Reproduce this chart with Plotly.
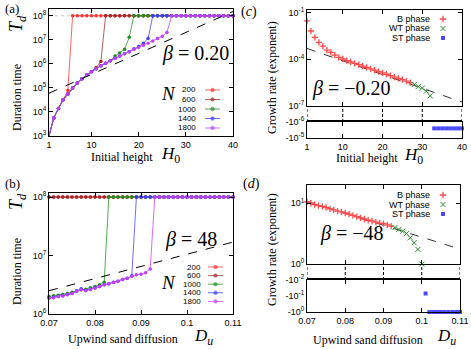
import plotly.graph_objects as go

W, H = 471, 349
SANS = "Liberation Sans"
SERIF = "Liberation Serif"

# ---------------- data ----------------
T_MAX = 1e8  # runs stop at this duration

h0 = list(range(1, 41))
du = [0.070, 0.071, 0.072, 0.073, 0.074, 0.075, 0.076, 0.077, 0.078, 0.079,
      0.080, 0.081, 0.082, 0.083, 0.084, 0.085, 0.086, 0.087, 0.088, 0.089,
      0.090, 0.091, 0.092, 0.093, 0.094, 0.095, 0.096, 0.097, 0.098, 0.099,
      0.100, 0.101, 0.102, 0.103, 0.104, 0.105, 0.106, 0.107, 0.108, 0.109,
      0.110]

n_labels = ["200", "600", "1000", "1400", "1800"]
n_colors = ["#ff3030", "#a02828", "#1f8f1f", "#3c3cff", "#c43cff"]

# (a) duration time vs initial height
td_a_200 = [1.0e3, 5.6e3, 1.4e4, 3.2e4, 7.9e4] + [T_MAX] * 35
td_a_600 = [1.0e3, 5.6e3, 1.4e4, 3.2e4, 5.6e4, 1.0e5, 1.6e5, 2.4e5, 3.4e5, 4.8e5,
            7.0e5, 1.26e6] + [T_MAX] * 28
td_a_1000 = [1.0e3, 5.6e3, 1.4e4, 3.2e4, 5.6e4, 1.0e5, 1.6e5, 2.4e5, 3.4e5, 4.7e5,
             6.3e5, 8.3e5, 1.07e6, 1.35e6, 2.1e6, 2.8e6, 4.0e6, 1.26e7] + [T_MAX] * 22
td_a_1400 = [1.0e3, 5.6e3, 1.4e4, 3.2e4, 5.6e4, 1.0e5, 1.6e5, 2.4e5, 3.4e5, 4.7e5,
             6.3e5, 8.3e5, 1.07e6, 1.35e6, 1.7e6, 2.1e6, 2.6e6, 3.2e6, 4.2e6, 5.2e6,
             7.1e6, 1.12e7] + [T_MAX] * 18
td_a_1800 = [1.0e3, 5.6e3, 1.4e4, 3.2e4, 5.6e4, 1.0e5, 1.6e5, 2.4e5, 3.4e5, 4.7e5,
             6.3e5, 8.3e5, 1.07e6, 1.35e6, 1.7e6, 2.1e6, 2.6e6, 3.2e6, 4.0e6, 4.8e6,
             5.9e6, 7.2e6, 8.9e6, 1.12e7, 1.4e7, 2.0e7] + [T_MAX] * 14
fit_a_h0 = [1, 40]
fit_a_td = [6.0e4, 1.5e8]

# (b) duration time vs upwind sand diffusion
td_b_200 = [T_MAX] * 41
td_b_600 = [T_MAX] * 41
td_b_1000 = [2.0e6, 2.05e6, 2.1e6, 2.15e6, 2.25e6, 2.35e6, 2.45e6, 2.6e6, 2.65e6, 2.8e6,
             2.95e6, 3.15e6, 3.5e6] + [T_MAX] * 28
td_b_1400 = [1.9e6, 1.95e6, 2.0e6, 2.05e6, 2.15e6, 2.25e6, 2.5e6, 2.7e6, 2.55e6, 2.65e6,
             2.8e6, 2.95e6, 3.15e6, 3.3e6, 3.5e6, 3.65e6, 3.9e6, 4.1e6, 4.5e6] + [T_MAX] * 22
td_b_1800 = [1.86e6, 1.9e6, 2.0e6, 2.04e6, 2.14e6, 2.24e6, 2.45e6, 2.6e6, 2.5e6, 2.63e6,
             2.75e6, 2.95e6, 3.16e6, 3.3e6, 3.47e6, 3.63e6, 3.9e6, 4.07e6, 4.37e6, 4.68e6,
             4.8e6, 5.1e6, 5.9e6] + [T_MAX] * 18
fit_b_du = [0.07, 0.11]
fit_b_td = [2.5e6, 1.7e7]

# (c) growth rate vs initial height
h0_c_b = list(range(1, 28))
rate_c_b = [3.0e-2, 6.6e-3, 2.6e-3, 1.23e-3, 7.1e-4, 3.9e-4, 2.8e-4, 1.86e-4, 1.32e-4,
            1.05e-4, 8.3e-5, 6.8e-5, 5.5e-5, 4.5e-5, 3.7e-5, 3.0e-5, 2.45e-5, 2.0e-5,
            1.62e-5, 1.35e-5, 1.1e-5, 8.9e-6, 7.2e-6, 5.9e-6, 4.9e-6, 4.0e-6, 3.2e-6]
h0_c_wt = [28, 29, 30, 31, 32]
rate_c_wt = [2.4e-6, 1.78e-6, 1.41e-6, 8.9e-7, 4.5e-7]
h0_c_st = [33, 34, 35, 36, 37, 38, 39, 40]
rate_c_st = [-2.5e-6, -2.5e-6, -2.5e-6, -2.5e-6, -2.5e-6, -2.5e-6, -2.5e-6, -2.5e-6]
fit_c_h0 = [1, 40]
fit_c_rate = [5.0e-4, 1.8e-7]

# (d) growth rate vs upwind sand diffusion
du_d_b = du[:23]
rate_d_b = [10.5, 10.0, 9.5, 9.1, 8.9, 8.5, 8.1, 7.8, 7.4, 7.2, 6.9, 6.6, 6.3, 6.0,
            5.75, 5.5, 5.25, 5.1, 4.9, 4.7, 4.6, 4.4, 4.2]
du_d_wt = du[23:31]
rate_d_wt = [3.98, 3.7, 3.47, 3.16, 2.7, 2.24, 1.74, 1.0]
du_d_st = du[31:]
rate_d_st = [-0.07, -1.0, -1.0, -1.0, -1.0, -1.0, -1.0, -1.0, -1.0, -1.0]
fit_d_du = [0.07, 0.11]
fit_d_rate = [10.7, 1.76]

h0_ticks = [1, 10, 20, 30, 40]
du_ticks = [0.07, 0.08, 0.09, 0.1, 0.11]
du_ticktext = ["0.07", "0.08", "0.09", "0.1", "0.11"]


def px(x):
    return x / W


def py(y):
    return 1 - y / H


def rgba(hexc, a):
    h = hexc.lstrip("#")
    return "rgba({},{},{},{})".format(int(h[0:2], 16), int(h[2:4], 16), int(h[4:6], 16), a)


def sup(base, exps):
    return ["{}10<sup>{}</sup>".format(base, e) for e in exps]


fig = go.Figure()

# ---------- (a) and (b) ----------
fig.add_trace(go.Scatter(x=[1, 40], y=[T_MAX, T_MAX], mode="lines",
                         line=dict(color="#c8c8c8", width=1, dash="dot"),
                         xaxis="x", yaxis="y", showlegend=False))
for td, c in zip([td_a_200, td_a_600, td_a_1000, td_a_1400, td_a_1800], n_colors):
    fig.add_trace(go.Scatter(x=h0, y=td, mode="lines+markers",
                             line=dict(color=rgba(c, 0.75), width=1),
                             marker=dict(color=c, size=3.5),
                             xaxis="x", yaxis="y", showlegend=False, cliponaxis=False))
fig.add_trace(go.Scatter(x=fit_a_h0, y=fit_a_td, mode="lines",
                         line=dict(color="black", width=1, dash="dash"),
                         xaxis="x", yaxis="y", showlegend=False))

for td, c in zip([td_b_200, td_b_600, td_b_1000, td_b_1400, td_b_1800], n_colors):
    fig.add_trace(go.Scatter(x=du, y=td, mode="lines+markers",
                             line=dict(color=rgba(c, 0.75), width=1),
                             marker=dict(color=c, size=3.5),
                             xaxis="x2", yaxis="y2", showlegend=False, cliponaxis=False))
fig.add_trace(go.Scatter(x=fit_b_du, y=fit_b_td, mode="lines",
                         line=dict(color="black", width=1, dash="dash"),
                         xaxis="x2", yaxis="y2", showlegend=False))

# ---------- (c) and (d) ----------
B_COL, WT_COL, ST_COL = "#ff4a4a", "#2a8a2a", "#4a4aff"


def phase_traces(xb, yb, xw, yw, xs, ys, fx, fy, xa_up, ya_up, xa_lo, ya_lo):
    fig.add_trace(go.Scatter(x=fx, y=fy, mode="lines",
                             line=dict(color="#333333", width=1, dash="dash"),
                             xaxis=xa_up, yaxis=ya_up, showlegend=False))
    fig.add_trace(go.Scatter(x=xb, y=yb, mode="markers",
                             marker=dict(symbol="cross-thin", size=4.5, color=B_COL,
                                         line=dict(color=B_COL, width=1.3)),
                             xaxis=xa_up, yaxis=ya_up, showlegend=False, cliponaxis=False))
    fig.add_trace(go.Scatter(x=xw, y=yw, mode="markers",
                             marker=dict(symbol="x-thin", size=5, color=WT_COL,
                                         line=dict(color=WT_COL, width=1)),
                             xaxis=xa_up, yaxis=ya_up, showlegend=False, cliponaxis=False))
    # negative rates shown by magnitude on a reversed log axis
    fig.add_trace(go.Scatter(x=xs, y=[-v for v in ys], mode="markers",
                             marker=dict(symbol="square", size=4, color=ST_COL),
                             xaxis=xa_lo, yaxis=ya_lo, showlegend=False, cliponaxis=False))


phase_traces(h0_c_b, rate_c_b, h0_c_wt, rate_c_wt, h0_c_st, rate_c_st,
             fit_c_h0, fit_c_rate, "x3", "y3", "x4", "y4")
phase_traces(du_d_b, rate_d_b, du_d_wt, rate_d_wt, du_d_st, rate_d_st,
             fit_d_du, fit_d_rate, "x5", "y5", "x6", "y6")

# ---------- hand-made legend keys (pixel overlay) ----------
a_key_y = [90, 99.5, 109, 118.5, 128]
b_key_y = [267, 275.6, 284.2, 292.8, 301.4]
for ky_list, x0, x1 in [(a_key_y, 205, 220), (b_key_y, 208, 223)]:
    for ky, c in zip(ky_list, n_colors):
        fig.add_trace(go.Scatter(x=[x0, (x0 + x1) / 2, x1], y=[ky, ky, ky],
                                 mode="lines+markers",
                                 line=dict(color=rgba(c, 0.75), width=1),
                                 marker=dict(color=c, size=[0, 3.5, 0]),
                                 xaxis="x7", yaxis="y7", showlegend=False))
for ky0 in [19, 195]:
    fig.add_trace(go.Scatter(x=[443], y=[ky0], mode="markers",
                             marker=dict(symbol="cross-thin", size=4.5, color=B_COL,
                                         line=dict(color=B_COL, width=1.3)),
                             xaxis="x7", yaxis="y7", showlegend=False))
    fig.add_trace(go.Scatter(x=[443], y=[ky0 + 9.5], mode="markers",
                             marker=dict(symbol="x-thin", size=5, color=WT_COL,
                                         line=dict(color=WT_COL, width=1)),
                             xaxis="x7", yaxis="y7", showlegend=False))
    fig.add_trace(go.Scatter(x=[443], y=[ky0 + 19], mode="markers",
                             marker=dict(symbol="square", size=4, color=ST_COL),
                             xaxis="x7", yaxis="y7", showlegend=False))


# ---------- axes ----------
def frame(**kw):
    d = dict(showline=True, linecolor="black", linewidth=1, mirror="ticks",
             ticks="inside", ticklen=4, tickcolor="black", tickwidth=1,
             showgrid=False, zeroline=False, tickmode="array", automargin=False,
             tickfont=dict(family=SANS, size=9, color="black"))
    d.update(kw)
    return d


xa_a = [px(49), px(233)]
xa_c = [px(307), px(462)]
xa_d = [px(307), px(460)]

layout = dict(
    template="none",
    width=W, height=H, margin=dict(l=0, r=0, t=0, b=0, pad=0),
    paper_bgcolor="white", plot_bgcolor="rgba(0,0,0,0)", showlegend=False,
    xaxis=frame(domain=xa_a, anchor="y", range=[1, 40], tickvals=h0_ticks),
    yaxis=frame(domain=[py(136), py(9)], anchor="x", type="log", range=[3, 8.28],
                tickvals=[1e3, 1e4, 1e5, 1e6, 1e7, 1e8],
                ticktext=sup("", [3, 4, 5, 6, 7, 8])),
    xaxis2=frame(domain=xa_a, anchor="y2", range=[0.07, 0.11], tickvals=du_ticks,
                 ticktext=du_ticktext),
    yaxis2=frame(domain=[py(314), py(193)], anchor="x2", type="log", range=[6, 8.07],
                 tickvals=[1e6, 1e7, 1e8], ticktext=sup("", [6, 7, 8])),
    xaxis3=frame(domain=xa_c, anchor="y3", range=[1, 40], tickvals=h0_ticks,
                 showticklabels=False),
    yaxis3=frame(domain=[py(106), py(10)], anchor="x3", type="log", range=[-7, -0.83],
                 tickvals=[1e-1, 1e-4, 1e-7], ticktext=sup("", [-1, -4, -7])),
    xaxis4=frame(domain=xa_c, anchor="y4", range=[1, 40], tickvals=h0_ticks),
    yaxis4=frame(domain=[py(138), py(122)], anchor="x4", type="log", range=[-5, -6],
                 tickvals=[1e-6, 1e-5], ticktext=sup("-", [-6, -5]), ticks=""),
    xaxis5=frame(domain=xa_d, anchor="y5", range=[0.07, 0.11], tickvals=du_ticks,
                 showticklabels=False),
    yaxis5=frame(domain=[py(264), py(185)], anchor="x5", type="log", range=[0, 1.3],
                 tickvals=[1, 10], ticktext=sup("", [0, 1])),
    xaxis6=frame(domain=xa_d, anchor="y6", range=[0.07, 0.11], tickvals=du_ticks,
                 ticktext=du_ticktext),
    yaxis6=frame(domain=[py(312), py(280)], anchor="x6", type="log", range=[0, -2],
                 tickvals=[1, 0.1, 0.01], ticktext=sup("-", [0, -1, -2]), ticks=""),
    xaxis7=dict(domain=[0, 1], anchor="y7", range=[0, W], visible=False,
                fixedrange=True, automargin=False),
    yaxis7=dict(domain=[0, 1], anchor="x7", range=[H, 0], visible=False,
                fixedrange=True, automargin=False),
)

# dashed break bands between the positive and negative parts
shapes = []
for t in h0_ticks:
    shapes.append(dict(type="line", xref="x3", yref="paper", x0=t, x1=t,
                       y0=py(122), y1=py(106),
                       line=dict(color="black", width=1, dash="3px,2px")))
for t in du_ticks:
    shapes.append(dict(type="line", xref="x5", yref="paper", x0=t, x1=t,
                       y0=py(280), y1=py(264),
                       line=dict(color="black", width=1, dash="3px,2px")))
# the break band's lower edge is drawn as a double line
shapes.append(dict(type="line", xref="x3", yref="paper", x0=1, x1=40,
                   y0=py(120.5), y1=py(120.5), line=dict(color="black", width=1)))
shapes.append(dict(type="line", xref="x5", yref="paper", x0=0.07, x1=0.11,
                   y0=py(278.5), y1=py(278.5), line=dict(color="black", width=1)))
layout["shapes"] = shapes


def ann(text, x, y, size, family=SERIF, xanchor="center", angle=0):
    return dict(text=text, x=px(x), y=py(y), xref="paper", yref="paper",
                showarrow=False, xanchor=xanchor, yanchor="middle", textangle=angle,
                font=dict(family=family, size=size, color="black"))


anns = [
    ann("(a)", 12, 9, 13), ann("(b)", 12, 184, 13),
    ann("(<i>c</i>)", 249, 12, 14), ann("(<i>d</i>)", 251, 184, 14),
    ann("Duration time", 17, 98, 12, angle=-90),
    ann("<i>T<sub>d</sub></i>", 18, 24, 18, angle=-90),
    ann("Duration time", 17, 272, 12, angle=-90),
    ann("<i>T<sub>d</sub></i>", 18, 202, 18, angle=-90),
    ann("Growth rate (exponent)", 272, 78, 12, angle=-90),
    ann("Growth rate (exponent)", 272, 250, 12, angle=-90),
    ann("Initial height", 122, 157, 12), ann("<i>H</i><sub>0</sub>", 170, 155, 17),
    ann("Initial height", 367, 158, 12), ann("<i>H</i><sub>0</sub>", 413, 156, 17),
    ann("Upwind sand diffusion", 123, 339, 12), ann("<i>D<sub>u</sub></i>", 203, 337, 17),
    ann("Upwind sand diffusion", 368, 340, 12), ann("<i>D<sub>u</sub></i>", 446, 337, 17),
    ann("<i>β</i> = 0.20", 231, 53, 20, xanchor="right"),
    ann("<i>β</i> = 48", 219, 239, 20, xanchor="right"),
    ann("<i>β</i> = −0.20", 310, 89, 20, xanchor="left"),
    ann("<i>β</i> = −48", 318, 233, 20, xanchor="left"),
    ann("<i>N</i>", 168, 93, 19), ann("<i>N</i>", 168, 282, 19),
]
for lab, ky in zip(n_labels, a_key_y):
    anns.append(ann(lab, 198, ky, 8, family=SANS, xanchor="right"))
for lab, ky in zip(n_labels, b_key_y):
    anns.append(ann(lab, 203, ky, 8, family=SANS, xanchor="right"))
for ky0 in [19, 195]:
    for i, lab in enumerate(["B phase", "WT phase", "ST phase"]):
        anns.append(ann(lab, 432, ky0 + 9.5 * i, 9, family=SANS, xanchor="right"))
layout["annotations"] = anns

fig.update_layout(**layout)
# the page's default body margin would shift the figure by 8 px
fig.write_html("out.html", config={"displayModeBar": False},
               post_script="document.body.style.margin='0px';"
                           "document.body.style.overflow='hidden';")
